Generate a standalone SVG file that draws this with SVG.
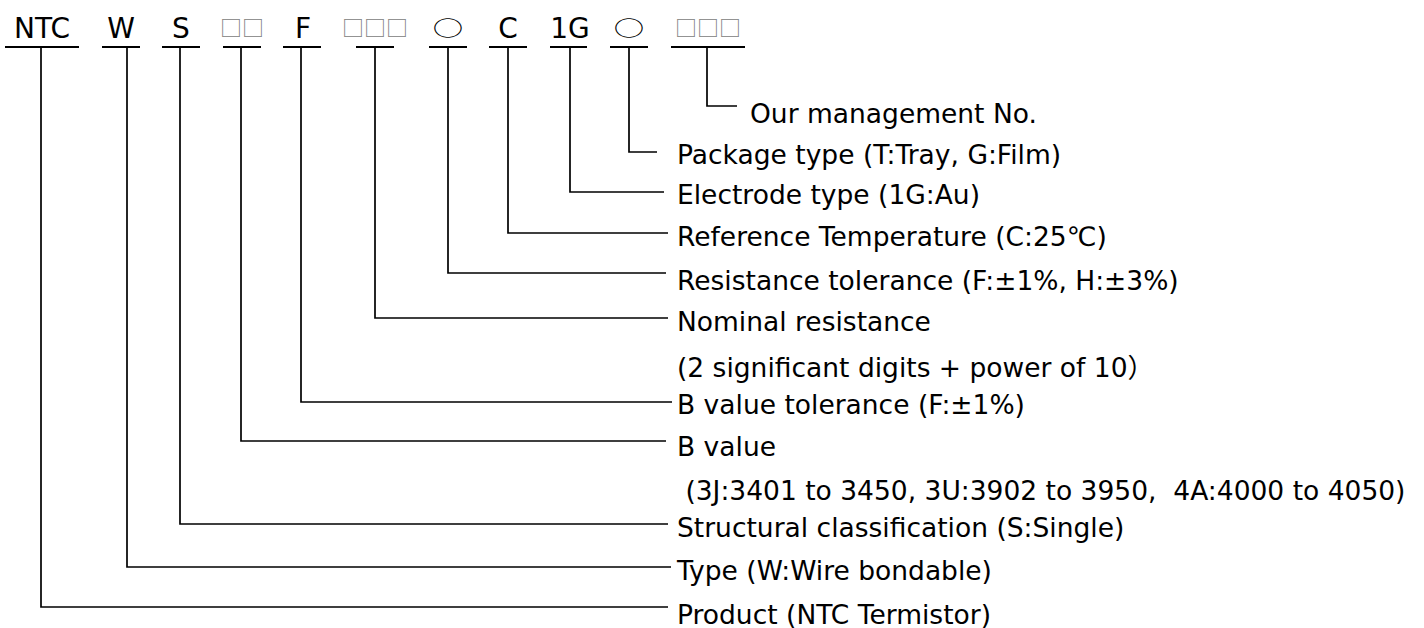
<svg xmlns="http://www.w3.org/2000/svg" width="1424" height="628" viewBox="0 0 1424 628">
<style>
.code{font-family:"DejaVu Sans","Noto Sans CJK JP",sans-serif;font-size:28px;fill:#000;text-anchor:middle}
.box{font-family:"Noto Sans CJK JP","DejaVu Sans",sans-serif;font-size:22px;fill:#808080;text-anchor:middle}
.circ{font-family:"Noto Sans CJK JP","DejaVu Sans",sans-serif;font-size:21px;fill:#000;text-anchor:middle}
.lbl{font-family:"DejaVu Sans","Noto Sans CJK JP",sans-serif;font-size:26.5px;fill:#000}
.ul{stroke:#000;stroke-width:2;fill:none}
.cn{stroke:#000;stroke-width:1.7;fill:none}
</style>
<rect width="1424" height="628" fill="#fff"/>
<g id="code">
<g id="c-ntc"><text class="code" x="42" y="38">NTC</text><line class="ul" x1="5" y1="47" x2="79" y2="47"/></g>
<g id="c-w"><text class="code" x="121" y="38">W</text><line class="ul" x1="102" y1="47" x2="140" y2="47"/></g>
<g id="c-s"><text class="code" x="181" y="38">S</text><line class="ul" x1="162" y1="47" x2="200" y2="47"/></g>
<g id="c-b"><text class="box" x="242" y="36">□□</text><line class="ul" x1="223" y1="47" x2="261" y2="47"/></g>
<g id="c-f"><text class="code" x="303" y="38">F</text><line class="ul" x1="283" y1="47" x2="321" y2="47"/></g>
<g id="c-r"><text class="box" x="375" y="36">□□□</text><line class="ul" x1="356" y1="47" x2="394" y2="47"/></g>
<g id="c-tol"><text class="circ" transform="translate(448,28) scale(1.45,0.95)" x="0" y="8">○</text><line class="ul" x1="429" y1="47" x2="467" y2="47"/></g>
<g id="c-c"><text class="code" x="508" y="38">C</text><line class="ul" x1="489" y1="47" x2="527" y2="47"/></g>
<g id="c-1g"><text class="code" x="570" y="38">1G</text><line class="ul" x1="550" y1="47" x2="587" y2="47"/></g>
<g id="c-pkg"><text class="circ" transform="translate(629,28) scale(1.45,0.95)" x="0" y="8">○</text><line class="ul" x1="610" y1="47" x2="648" y2="47"/></g>
<g id="c-mgmt"><text class="box" x="708" y="36">□□□</text><line class="ul" x1="671" y1="47" x2="745" y2="47"/></g>
</g>
<g id="connectors">
<polyline class="cn" points="707,47 707,106 737,106"/>
<polyline class="cn" points="629,47 629,152 657,152"/>
<polyline class="cn" points="570,47 570,192 664,192"/>
<polyline class="cn" points="508,47 508,233 668,233"/>
<polyline class="cn" points="448,47 448,273 666,273"/>
<polyline class="cn" points="375,47 375,318 668,318"/>
<polyline class="cn" points="301,47 301,402 672,402"/>
<polyline class="cn" points="241,47 241,441 666,441"/>
<polyline class="cn" points="180,47 180,524 668,524"/>
<polyline class="cn" points="127,47 127,567 671,567"/>
<polyline class="cn" points="41,47 41,607 668,607"/>
</g>
<g id="labels">
<g id="l-mgmt"><text class="lbl" x="750" y="123">Our management No.</text></g>
<g id="l-pkg"><text class="lbl" x="677" y="164">Package type (T:Tray, G:Film)</text></g>
<g id="l-elec"><text class="lbl" x="677" y="204">Electrode type (1G:Au)</text></g>
<g id="l-ref"><text class="lbl" x="677" y="246">Reference Temperature (C:25℃)</text></g>
<g id="l-tol"><text class="lbl" x="677" y="290">Resistance tolerance (F:±1%, H:±3%)</text></g>
<g id="l-nom"><text class="lbl" x="677" y="331">Nominal resistance</text><text class="lbl" x="677" y="377">(2 significant digits + power of 10）</text></g>
<g id="l-btol"><text class="lbl" x="677" y="414">B value tolerance (F:±1%)</text></g>
<g id="l-bval"><text class="lbl" x="677" y="456">B value</text><text class="lbl" x="677" y="500" xml:space="preserve"> (3J:3401 to 3450, 3U:3902 to 3950,  4A:4000 to 4050)</text></g>
<g id="l-struct"><text class="lbl" x="677" y="537">Structural classification (S:Single)</text></g>
<g id="l-type"><text class="lbl" x="677" y="580">Type (W:Wire bondable)</text></g>
<g id="l-prod"><text class="lbl" x="677" y="624">Product (NTC Termistor)</text></g>
</g>
</svg>
